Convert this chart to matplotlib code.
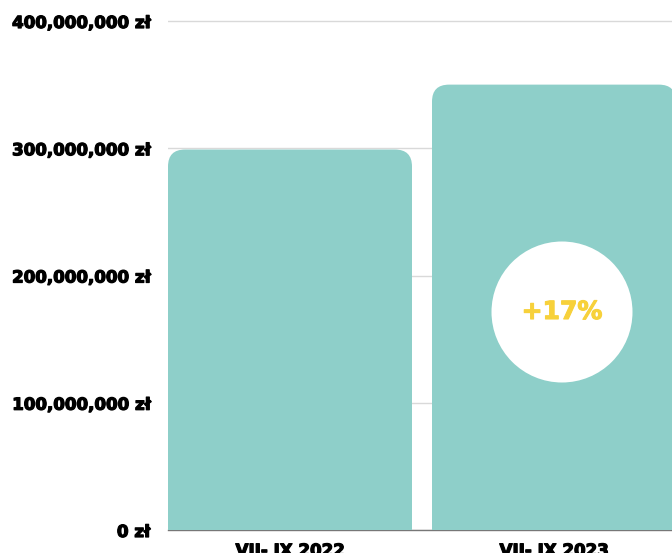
import matplotlib
matplotlib.use("Agg")
import matplotlib.pyplot as plt
import matplotlib.patheffects as pe
from matplotlib.patches import FancyBboxPatch, Ellipse
from matplotlib.ticker import FuncFormatter

categories = ["VII- IX 2022", "VII- IX 2023"]
values = [299_000_000, 350_000_000]
yticks = [0, 100_000_000, 200_000_000, 300_000_000, 400_000_000]
badge_text = "+17%"

W, H, DPI = 672, 553, 100
fig = plt.figure(figsize=(W / DPI, H / DPI), dpi=DPI)
px_per_100m = 127.25
ytop = 4.1e8
ax_bottom_px = 23
ax_h_px = ytop / 1e8 * px_per_100m
ax = fig.add_axes([168 / W, ax_bottom_px / H, 504 / W, ax_h_px / H])

bar_color = "#8ecfc9"
step_px = 264
bw = 244 / step_px
xl = -bw / 2
xr = xl + 504 / step_px
ax.set_xlim(xl, xr)
ax.set_ylim(0, ytop)

bars = ax.bar(range(len(values)), values, width=bw, color="none", edgecolor="none")

xunit_per_px = 1 / step_px
yunit_per_px = 1e8 / px_per_100m
aspect = yunit_per_px / xunit_per_px
r = 17 * xunit_per_px
for b in bars:
    x0, w, h = b.get_x(), b.get_width(), b.get_height()
    ext = 40 * yunit_per_px
    p = FancyBboxPatch((x0, -ext), w, h + ext,
                       boxstyle=f"round,pad=0,rounding_size={r}",
                       mutation_aspect=aspect, facecolor=bar_color,
                       edgecolor="none", zorder=2)
    ax.add_patch(p)

ax.set_yticks(yticks)
ax.yaxis.set_major_formatter(FuncFormatter(lambda v, p: f"{int(v):,} zł"))
ax.set_xticks(range(len(categories)))
ax.set_xticklabels(categories)
ax.grid(axis="y", color="#d9d9d9", linewidth=1, zorder=0)
ax.set_axisbelow(True)
for s in ["top", "right", "left"]:
    ax.spines[s].set_visible(False)
ax.spines["bottom"].set_color("#777777")
ax.spines["bottom"].set_linewidth(1)
ax.spines["bottom"].set_zorder(1)
ax.tick_params(axis="both", length=0)
ax.tick_params(axis="y", pad=13)
ax.tick_params(axis="x", pad=8.5)
for lbl in ax.get_yticklabels() + ax.get_xticklabels():
    lbl.set_fontfamily("DejaVu Sans")
    lbl.set_fontweight("bold")
    lbl.set_fontsize(12)
    lbl.set_color("black")
    lbl.set_path_effects([pe.withStroke(linewidth=0.9, foreground="black")])

# badge circle on second bar
cx = 0 + 562 / step_px - 168 / step_px + xl
cy = (530 - 312) * yunit_per_px
rad_px = 70.5
circ = Ellipse((cx, cy), 2 * rad_px * xunit_per_px, 2 * rad_px * yunit_per_px,
               facecolor="white", edgecolor="none", zorder=3)
ax.add_patch(circ)
ax.text(cx, cy, badge_text, ha="center", va="center", color="#f7d13b",
        fontsize=18, fontweight="bold", fontfamily="DejaVu Sans", zorder=4,
        path_effects=[pe.withStroke(linewidth=0.8, foreground="#f7d13b")])

fig.savefig("out.png", dpi=DPI)
